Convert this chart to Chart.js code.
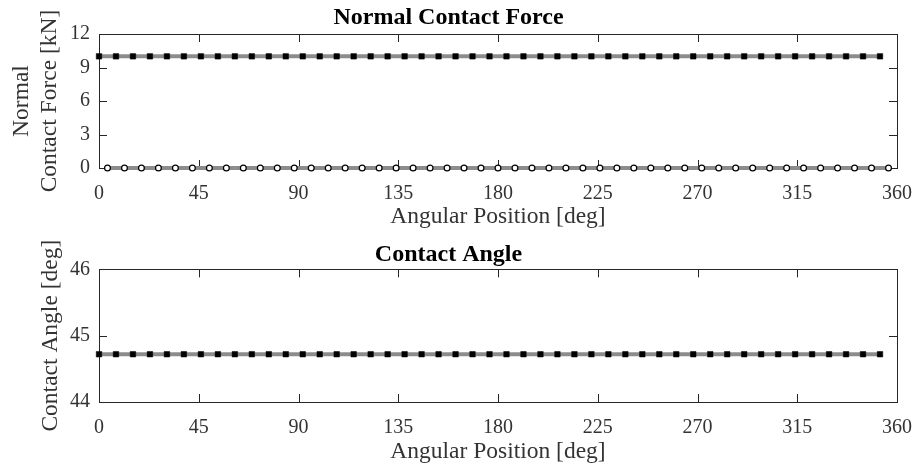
<!DOCTYPE html>
<html>
<head>
<meta charset="utf-8">
<script src="https://cdn.jsdelivr.net/npm/chart.js@4"></script>
<style>
  body { margin: 0; background: #fff; }
  #wrap { position: relative; width: 915px; height: 473px; }
  .panel { position: absolute; left: 0; width: 915px; }
</style>
</head>
<body>
<div id="wrap">
  <div class="panel" style="top:0;height:236px"><canvas id="forceChart" width="915" height="236"></canvas></div>
  <div class="panel" style="top:236px;height:237px"><canvas id="angleChart" width="915" height="237"></canvas></div>
</div>
<script>
// angular positions of the square markers (loaded ball)
const squareAngles = [0, 7.66, 15.32, 22.98, 30.64, 38.3, 45.96, 53.62, 61.28, 68.94, 76.6, 84.26,
  91.91, 99.57, 107.23, 114.89, 122.55, 130.21, 137.87, 145.53, 153.19, 160.85, 168.51, 176.17,
  183.83, 191.49, 199.15, 206.81, 214.47, 222.13, 229.79, 237.45, 245.11, 252.77, 260.43, 268.09,
  275.74, 283.4, 291.06, 298.72, 306.38, 314.04, 321.7, 329.36, 337.02, 344.68, 352.34];
// angular positions of the circle markers (unloaded ball)
const circleAngles = [3.83, 11.49, 19.15, 26.81, 34.47, 42.13, 49.79, 57.45, 65.11, 72.77, 80.43, 88.09,
  95.74, 103.4, 111.06, 118.72, 126.38, 134.04, 141.7, 149.36, 157.02, 164.68, 172.34, 180,
  187.66, 195.32, 202.98, 210.64, 218.3, 225.96, 233.62, 241.28, 248.94, 256.6, 264.26, 271.91,
  279.57, 287.23, 294.89, 302.55, 310.21, 317.87, 325.53, 333.19, 340.85, 348.51, 356.17];

const forceSquares = [10, 10, 10, 10, 10, 10, 10, 10, 10, 10, 10, 10, 10, 10, 10, 10,
  10, 10, 10, 10, 10, 10, 10, 10, 10, 10, 10, 10, 10, 10, 10, 10,
  10, 10, 10, 10, 10, 10, 10, 10, 10, 10, 10, 10, 10, 10, 10];
const forceCircles = [0, 0, 0, 0, 0, 0, 0, 0, 0, 0, 0, 0, 0, 0, 0, 0,
  0, 0, 0, 0, 0, 0, 0, 0, 0, 0, 0, 0, 0, 0, 0, 0,
  0, 0, 0, 0, 0, 0, 0, 0, 0, 0, 0, 0, 0, 0, 0];
const angleSquares = [44.72, 44.72, 44.72, 44.72, 44.72, 44.72, 44.72, 44.72, 44.72, 44.72, 44.72, 44.72,
  44.72, 44.72, 44.72, 44.72, 44.72, 44.72, 44.72, 44.72, 44.72, 44.72, 44.72, 44.72,
  44.72, 44.72, 44.72, 44.72, 44.72, 44.72, 44.72, 44.72, 44.72, 44.72, 44.72, 44.72,
  44.72, 44.72, 44.72, 44.72, 44.72, 44.72, 44.72, 44.72, 44.72, 44.72, 44.72];

const xTicks = [0, 45, 90, 135, 180, 225, 270, 315, 360];
const forceTicks = [0, 3, 6, 9, 12];
const angleTicks = [44, 45, 46];

const SERIF = "'Liberation Serif', 'Times New Roman', serif";
const INK = "#333333";
const LINE_GREY = "#8c8c8c";

const toPoints = (xs, ys) => xs.map((x, i) => ({ x, y: ys[i] }));

const squareSet = (xs, ys) => ({
  data: toPoints(xs, ys),
  borderColor: LINE_GREY,
  borderWidth: 4,
  pointStyle: "rect",
  pointRadius: 3.9,
  pointBackgroundColor: "#000",
  pointBorderColor: "#000",
  pointBorderWidth: 0.5,
  clip: false,
});

const circleSet = (xs, ys) => ({
  data: toPoints(xs, ys),
  borderColor: LINE_GREY,
  borderWidth: 4,
  pointStyle: "circle",
  pointRadius: 2.9,
  pointBackgroundColor: "#fff",
  pointBorderColor: "#000",
  pointBorderWidth: 1.2,
  clip: false,
});

// matlab style box with inward ticks on all four sides
const boxTicks = {
  id: "boxTicks",
  beforeDatasetsDraw(chart) {
    const { ctx, chartArea: a, scales } = chart;
    const len = 8;
    ctx.save();
    ctx.strokeStyle = "#262626";
    ctx.lineWidth = 1;
    ctx.beginPath();
    scales.x.ticks.forEach((t) => {
      const px = Math.round(scales.x.getPixelForValue(t.value)) + 0.5;
      ctx.moveTo(px, a.bottom);
      ctx.lineTo(px, a.bottom - len);
      ctx.moveTo(px, a.top);
      ctx.lineTo(px, a.top + len);
    });
    scales.y.ticks.forEach((t) => {
      const py = Math.round(scales.y.getPixelForValue(t.value)) + 0.5;
      ctx.moveTo(a.left, py);
      ctx.lineTo(a.left + len, py);
      ctx.moveTo(a.right, py);
      ctx.lineTo(a.right - len, py);
    });
    ctx.stroke();
    ctx.strokeRect(Math.round(a.left) + 0.5, Math.round(a.top) + 0.5,
      Math.round(a.right - a.left), Math.round(a.bottom - a.top));
    ctx.restore();
  },
};

const makeChart = (canvas, cfg) =>
  new Chart(canvas, {
    type: "line",
    data: { datasets: cfg.datasets },
    plugins: [boxTicks],
    options: {
      responsive: false,
      animation: false,
      layout: { padding: { left: 0, right: 18, top: 0, bottom: 0 } },
      plugins: {
        legend: { display: false },
        tooltip: { enabled: false },
        title: {
          display: true,
          text: cfg.title,
          color: "#000",
          font: { family: SERIF, size: 24, weight: "bold", lineHeight: 1.2 },
          padding: cfg.titlePadding,
        },
      },
      scales: {
        x: {
          type: "linear",
          min: 0,
          max: 360,
          afterBuildTicks: (s) => { s.ticks = xTicks.map((v) => ({ value: v })); },
          afterFit: (s) => {
            s.height = cfg.xHeight;
            s.paddingLeft = 0;
            s.paddingRight = 0;
          },
          grid: { display: false, drawTicks: false },
          border: { display: false },
          ticks: { color: INK, padding: 14, font: { family: SERIF, size: 20 } },
          title: {
            display: true,
            text: "Angular Position [deg]",
            color: INK,
            font: { family: SERIF, size: 23.5, lineHeight: 1.2 },
            padding: { top: 0, bottom: cfg.xTitleBottom },
          },
        },
        y: {
          type: "linear",
          min: cfg.yTicks[0],
          max: cfg.yTicks[cfg.yTicks.length - 1],
          afterBuildTicks: (s) => { s.ticks = cfg.yTicks.map((v) => ({ value: v })); },
          afterFit: (s) => { s.width = 99; },
          grid: { display: false, drawTicks: false },
          border: { display: false },
          ticks: { color: INK, padding: 9, font: { family: SERIF, size: 20 } },
          title: {
            display: true,
            text: cfg.yTitle,
            color: INK,
            font: { family: SERIF, size: 23.5, lineHeight: "28px" },
            padding: { top: cfg.yTitleTop, bottom: 0 },
          },
        },
      },
    },
  });

makeChart(document.getElementById("forceChart"), {
  title: "Normal Contact Force",
  titlePadding: { top: 3, bottom: 2.2 },
  datasets: [squareSet(squareAngles, forceSquares), circleSet(circleAngles, forceCircles)],
  yTicks: forceTicks,
  yTitle: ["Normal", "Contact Force [kN]"],
  yTitleTop: 8,
  xHeight: 68,
  xTitleBottom: 5.5,
});

makeChart(document.getElementById("angleChart"), {
  title: "Contact Angle",
  titlePadding: { top: 4, bottom: 0.5 },
  datasets: [squareSet(squareAngles, angleSquares)],
  yTicks: angleTicks,
  yTitle: "Contact Angle [deg]",
  yTitleTop: 37,
  xHeight: 71,
  xTitleBottom: 7,
});
</script>
</body>
</html>
